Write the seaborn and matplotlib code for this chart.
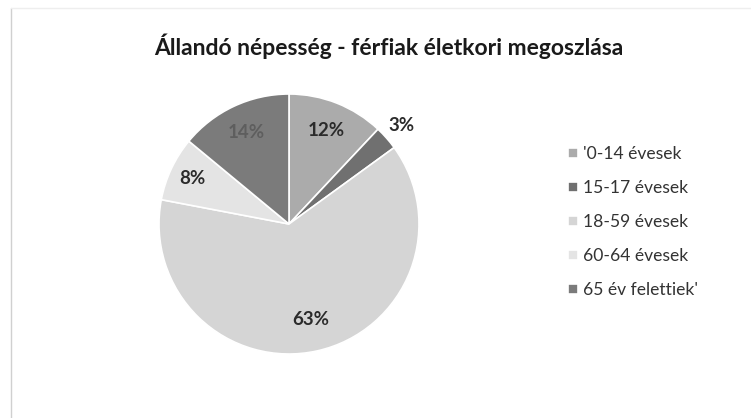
import numpy as np
import matplotlib
matplotlib.use("Agg")
import matplotlib.pyplot as plt
import seaborn as sns

# chart data
categories = ["'0-14 évesek", "15-17 évesek", "18-59 évesek", "60-64 évesek", "65 év felettiek'"]
shares = [12, 3, 63, 8, 14]
slice_colors = ["#ababab", "#707070", "#d5d5d5", "#e4e4e4", "#7b7b7b"]
label_colors = ["#2b2b2b", "#2b2b2b", "#2b2b2b", "#2b2b2b", "#5e5e5e"]
label_dist = [0.77, 1.15, 0.75, 0.82, 0.78]

sns.set_theme(style="white")
plt.rcParams['font.family'] = ['Lato', 'DejaVu Sans']

fig = plt.figure(figsize=(7.51, 4.18), dpi=100)
ax = fig.add_axes([159 / 751, (418 - 224 - 130) / 418, 260 / 751, 260 / 418])

wedges, _ = ax.pie(shares, colors=slice_colors, startangle=90, counterclock=False,
                   wedgeprops=dict(edgecolor="white", linewidth=1.2))
ax.set_xlim(-1, 1)
ax.set_ylim(-1, 1)
ax.set_aspect("equal")
ax.axis("off")

# percentage labels
for w, val, d, c in zip(wedges, shares, label_dist, label_colors):
    ang = np.deg2rad((w.theta1 + w.theta2) / 2)
    ax.text(d * np.cos(ang), d * np.sin(ang), f"{val}%", ha="center", va="center",
            fontsize=13.5, fontweight="bold", color=c, clip_on=False)

fig.suptitle("Állandó népesség - férfiak életkori megoszlása", x=389 / 751, y=1 - 46 / 418,
             fontsize=16.5, fontweight="bold", color="#1a1a1a", va="center")

leg = fig.legend(wedges, categories, loc="upper left", bbox_to_anchor=(561 / 751, 1 - 139 / 418),
                 frameon=False, fontsize=12.6, labelspacing=1.03, handlelength=0.55, handleheight=0.55,
                 handletextpad=0.3, borderaxespad=0)
for t in leg.get_texts():
    t.set_color("#333333")

# faint chart-area frame on the left and top
fig.add_artist(plt.Line2D([11 / 751, 11 / 751], [0, 1 - 8 / 418], color="#d0d0d0", lw=1,
                          transform=fig.transFigure))
fig.add_artist(plt.Line2D([11 / 751, 1], [1 - 8 / 418, 1 - 8 / 418], color="#eeeeee", lw=1,
                          transform=fig.transFigure))

fig.savefig("out.png", dpi=100)
